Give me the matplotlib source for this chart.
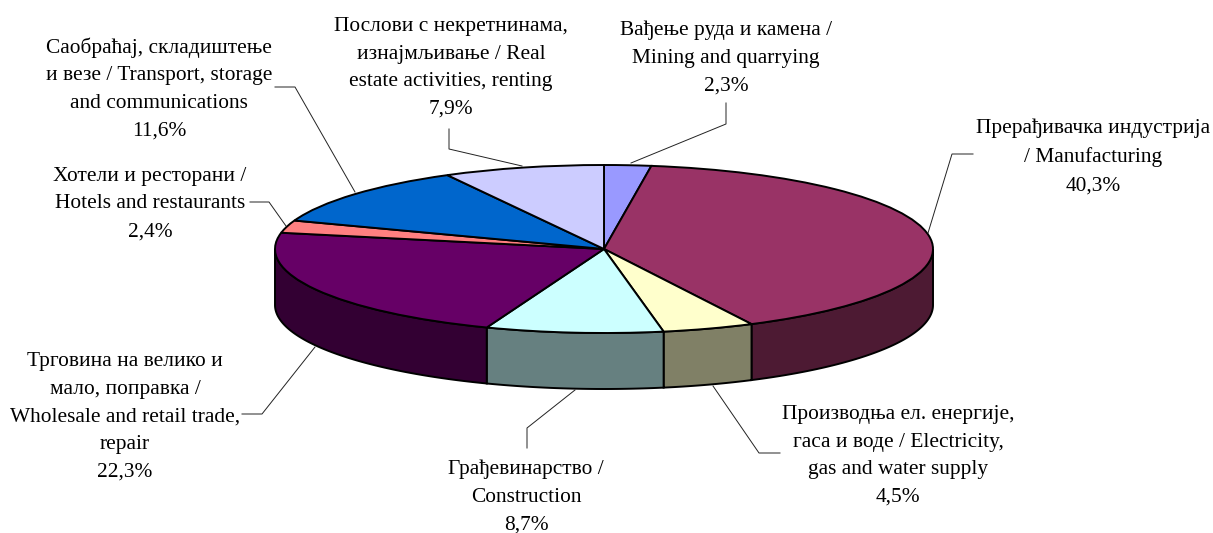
#Importing the libraries
import matplotlib
matplotlib.use('Agg')
import matplotlib.pyplot as plt
from matplotlib.transforms import Affine2D
import numpy as np

plt.rcParams['font.family'] = ['Liberation Serif', 'DejaVu Serif']

# Data, clockwise from the top of the pie
names = [
    'Вађење руда и камена /\nMining and quarrying',
    'Прерађивачка индустрија\n/ Manufacturing',
    'Производња ел. енергије,\nгаса и воде / Electricity,\ngas and water supply',
    'Грађевинарство /\nConstruction',
    'Трговина на велико и\nмало, поправка /\nWholesale and retail trade,\nrepair',
    'Хотели и ресторани /\nHotels and restaurants',
    'Саобраћај, складиштење\nи везе / Transport, storage\nand communications',
    'Послови с некретнинама,\nизнајмљивање / Real\nestate activities, renting',
]
shares = [2.3, 40.3, 4.5, 8.7, 22.3, 2.4, 11.6, 7.9]
top_colors = ['#9999FF', '#993366', '#FFFFCC', '#CCFFFF',
              '#660066', '#FF8080', '#0066CC', '#CCCCFF']
side_colors = ['#4D4D80', '#4D1A33', '#808066', '#668080',
               '#330033', '#804040', '#003366', '#666680']

# Layout, in pixels of the picture
W, H = 1213, 533
CX, CY, RX, RY, DEPTH = 604, 249, 329, 84, 56
label_pos = [(726, 58), (1093, 157), (898, 456), (526, 497),
             (125, 417), (150, 204), (159, 89), (451, 68)]
leaders = [
    [(726, 103), (726, 124), (631, 163)],
    [(973, 154), (952, 154), (928, 233)],
    [(780, 453), (759, 453), (713, 386)],
    [(527, 448), (527, 428), (575, 390)],
    [(242, 414), (262, 414), (315, 347)],
    [(250, 202), (269, 202), (286, 226)],
    [(275, 87), (295, 87), (355, 192)],
    [(449, 129), (449, 149), (522, 166)],
]

fig = plt.figure(figsize=(W / 100, H / 100), dpi=100)
ax = fig.add_axes([0, 0, 1, 1])

# The rim goes first, only its front half can be seen
depth = DEPTH / RY
edges = np.cumsum([0] + shares) / sum(shares) * 2 * np.pi
for a, b, c in zip(edges[:-1], edges[1:], side_colors):
    a, b = max(a, np.pi / 2), min(b, 3 * np.pi / 2)
    if a >= b:
        continue
    t = np.linspace(a, b, 100)
    xs = np.r_[np.sin(t), np.sin(t[::-1])]
    ys = np.r_[np.cos(t), np.cos(t[::-1]) - depth]
    ax.fill(xs, ys, facecolor=c, edgecolor='black', linewidth=1.4, zorder=1)

ax.pie(shares, colors=top_colors, startangle=90, counterclock=False, radius=1,
       wedgeprops={'edgecolor': 'black', 'linewidth': 1.4, 'zorder': 2})

# Squash the circle to the ellipse
ax.set_aspect('auto')
ax.set_xlim(-CX / RX, (W - CX) / RX)
ax.set_ylim(-(H - CY) / RY, CY / RY)
ax.axis('off')

# Picture pixels, y going down
px = Affine2D().scale(1, -1).translate(0, H)

for path in leaders:
    ax.plot([p[0] for p in path], [p[1] for p in path], color='#222222',
            linewidth=0.7, transform=px, zorder=3, clip_on=False)

for name, v, pos in zip(names, shares, label_pos):
    label = name + '\n' + f'{v:.1f}'.replace('.', ',') + '%'
    ax.text(pos[0], pos[1], label, transform=px, ha='center', va='center',
            ma='center', fontsize=15.4, linespacing=1.62, color='black')

fig.savefig('out.png', dpi=100)
